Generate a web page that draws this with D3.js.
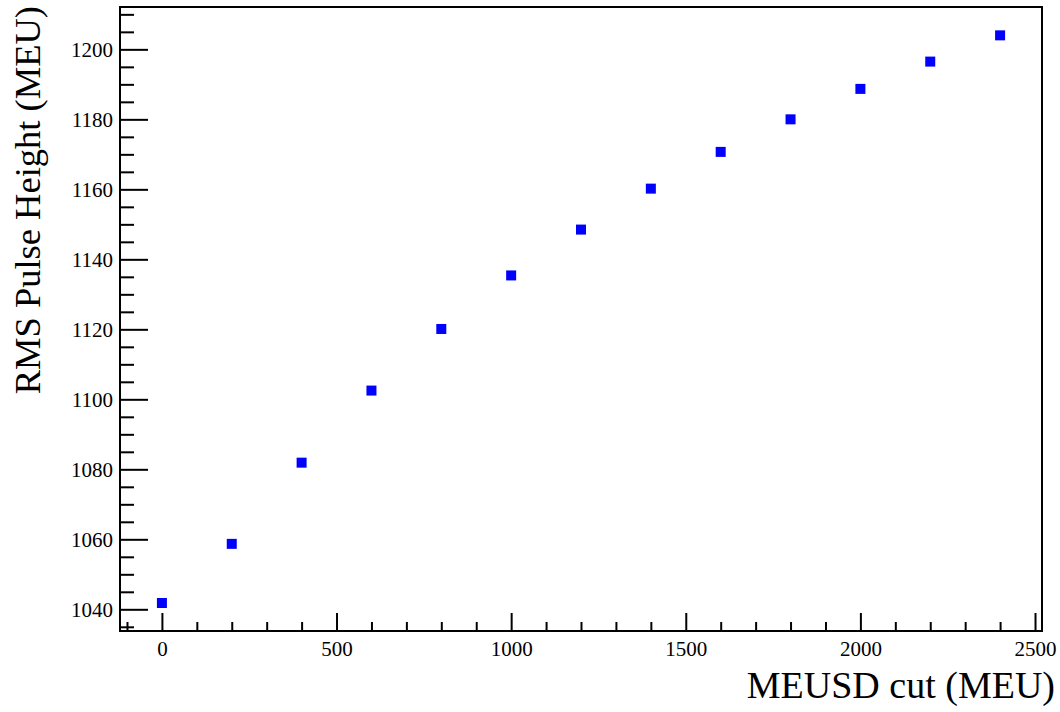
<!DOCTYPE html>
<html>
<head>
<meta charset="utf-8">
<script src="https://cdn.jsdelivr.net/npm/d3@7"></script>
<style>
  html, body { margin: 0; padding: 0; background: #fff; }
  svg { display: block; }
  text { font-family: "Liberation Serif", "Times New Roman", serif; fill: #000; }
</style>
</head>
<body>
<svg id="chart" width="1060" height="712"></svg>
<script>
// Data
const cutValues = [0, 200, 400, 600, 800, 1000, 1200, 1400, 1600, 1800, 2000, 2200, 2400];
const rmsValues = [1041.8, 1058.7, 1081.9, 1102.5, 1120.1, 1135.4, 1148.5, 1160.2, 1170.7, 1180.0, 1188.7, 1196.5, 1204.0];
const xTickLabels = [0, 500, 1000, 1500, 2000, 2500];
const yTickLabels = [1040, 1060, 1080, 1100, 1120, 1140, 1160, 1180, 1200];
const xTitle = "MEUSD cut (MEU)";
const yTitle = "RMS Pulse Height (MEU)";

(function () {
const svg = d3.select("#chart");
const fL = 120, fR = 1042, fT = 7, fB = 631;
const serif = '"Liberation Serif", "Times New Roman", serif';

const x = d3.scaleLinear().domain([-120, 2520]).range([fL, fR]);
const y = d3.scaleLinear().domain([1033.8, 1212.1]).range([fB, fT]);

const xMinor = d3.range(-100, 2521, 100).filter(v => v % 500 !== 0);
const yMinor = d3.range(1035, 1212.1, 5).filter(v => v % 20 !== 0);

// X axis ticks (inward)
svg.append("g").attr("transform", `translate(0,${fB})`)
  .call(d3.axisBottom(x).tickValues(xTickLabels).tickSize(-18).tickPadding(10).tickFormat(d3.format("d")));
svg.append("g").attr("transform", `translate(0,${fB})`)
  .call(d3.axisBottom(x).tickValues(xMinor).tickSize(-9).tickFormat(""));

// Y axis ticks (inward)
svg.append("g").attr("transform", `translate(${fL},0)`)
  .call(d3.axisLeft(y).tickValues(yTickLabels).tickSize(-28).tickPadding(7).tickFormat(d3.format("d")));
svg.append("g").attr("transform", `translate(${fL},0)`)
  .call(d3.axisLeft(y).tickValues(yMinor).tickSize(-14).tickFormat(""));

svg.selectAll("g").attr("font-family", serif).attr("font-size", 21);
svg.selectAll(".domain").remove();
svg.selectAll(".tick line").attr("stroke", "#000").attr("stroke-width", 2);
svg.selectAll(".tick text").attr("font-family", serif).attr("font-size", 21).attr("fill", "#000");

// Frame
svg.append("rect")
  .attr("x", fL).attr("y", fT)
  .attr("width", fR - fL).attr("height", fB - fT)
  .attr("fill", "none").attr("stroke", "#000").attr("stroke-width", 2);

// Points
const ms = 10;
svg.append("g").selectAll("rect")
  .data(cutValues.map((c, i) => [c, rmsValues[i]]))
  .join("rect")
  .attr("x", d => x(d[0]) - ms / 2)
  .attr("y", d => y(d[1]) - ms / 2)
  .attr("width", ms).attr("height", ms)
  .attr("fill", "#0000ff");

// Titles
svg.append("text")
  .attr("x", 1055).attr("y", 698)
  .attr("text-anchor", "end")
  .attr("font-family", serif)
  .attr("font-size", 38)
  .text(xTitle);

svg.append("text")
  .attr("transform", "translate(40,6) rotate(-90)")
  .attr("text-anchor", "end")
  .attr("font-family", serif)
  .attr("font-size", 36.5)
  .text(yTitle);
})();
</script>
</body>
</html>
